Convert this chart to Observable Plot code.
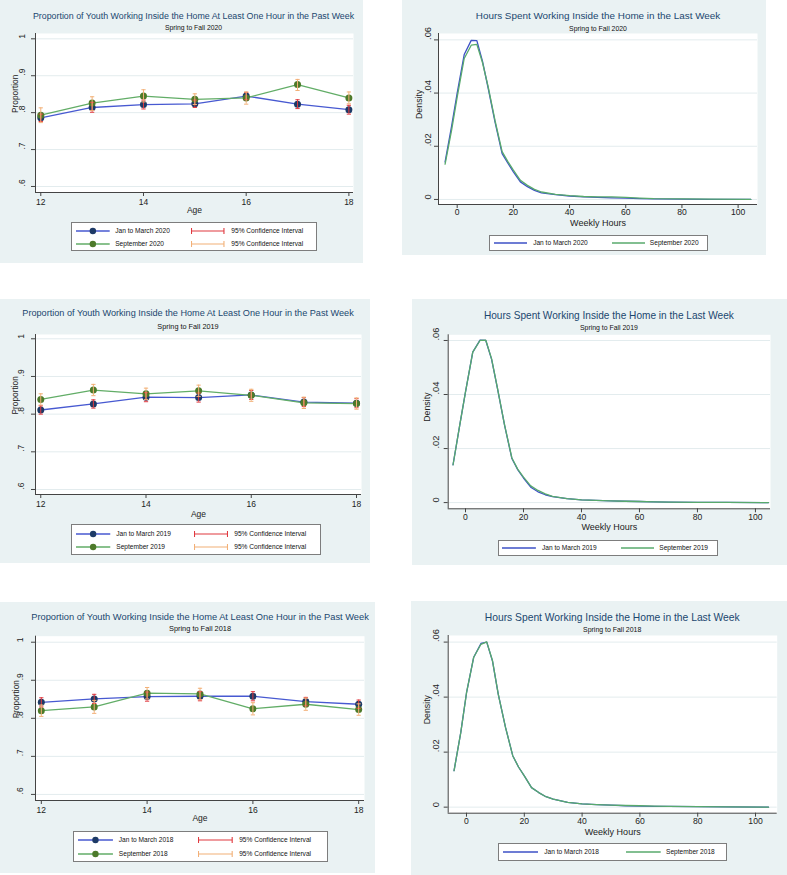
<!DOCTYPE html>
<html><head><meta charset="utf-8">
<script src="https://cdn.jsdelivr.net/npm/d3@7"></script>
<script src="https://cdn.jsdelivr.net/npm/@observablehq/plot@0.6"></script>
<style>
body{margin:0;background:#fff;font-family:"Liberation Sans",Arial,sans-serif;}
#root{position:relative;width:787px;height:875px;overflow:hidden;background:#fff;}
.panel{position:absolute;background:#EAF2F3;}
.panel svg.plot{position:absolute;left:0;top:0;}
.t{position:absolute;white-space:nowrap;transform:translate(-50%,-50%);line-height:1;}
.legend{position:absolute;background:#fff;border:1px solid #7d7d7d;box-sizing:border-box;}
.li{position:absolute;white-space:nowrap;transform:translateY(-50%);font-size:6.6px;color:#111;line-height:1;}
.sw{position:absolute;transform:translateY(-50%);}
</style></head><body><div id="root"></div>
<script>
// ---------------- DATA ----------------
const ages = [12, 13, 14, 15, 16, 17, 18];
const propTicks = [0.6, 0.7, 0.8, 0.9, 1];
const ageTicks = [12, 14, 16, 18];

// 2020
const jan2020 = [0.786, 0.814, 0.822, 0.824, 0.845, 0.823, 0.808];
const jan2020Lo = [0.776, 0.801, 0.810, 0.814, 0.835, 0.811, 0.796];
const jan2020Hi = [0.796, 0.828, 0.834, 0.834, 0.855, 0.835, 0.820];
const sep2020 = [0.793, 0.826, 0.845, 0.836, 0.840, 0.876, 0.840];
const sep2020Lo = [0.773, 0.806, 0.829, 0.822, 0.823, 0.860, 0.824];
const sep2020Hi = [0.813, 0.843, 0.862, 0.851, 0.856, 0.890, 0.856];
// 2019
const jan2019 = [0.811, 0.827, 0.845, 0.844, 0.851, 0.832, 0.829];
const jan2019Lo = [0.800, 0.816, 0.833, 0.832, 0.839, 0.820, 0.817];
const jan2019Hi = [0.822, 0.838, 0.857, 0.856, 0.863, 0.844, 0.841];
const sep2019 = [0.839, 0.864, 0.854, 0.862, 0.850, 0.830, 0.828];
const sep2019Lo = [0.824, 0.849, 0.839, 0.847, 0.834, 0.815, 0.813];
const sep2019Hi = [0.854, 0.879, 0.869, 0.877, 0.866, 0.845, 0.843];
// 2018
const jan2018 = [0.842, 0.851, 0.857, 0.858, 0.858, 0.844, 0.837];
const jan2018Lo = [0.830, 0.839, 0.845, 0.846, 0.846, 0.833, 0.826];
const jan2018Hi = [0.854, 0.863, 0.869, 0.870, 0.870, 0.855, 0.848];
const sep2018 = [0.820, 0.830, 0.866, 0.864, 0.825, 0.837, 0.823];
const sep2018Lo = [0.805, 0.813, 0.851, 0.849, 0.809, 0.821, 0.808];
const sep2018Hi = [0.835, 0.847, 0.881, 0.879, 0.841, 0.853, 0.838];

// Density of weekly hours
const hours = [-4.3, -2, 0, 2.5, 5, 7, 9, 11, 13.5, 16, 18, 20, 22.5, 25, 27.5, 30, 35, 40, 45, 50, 55, 60, 65, 70, 80, 90, 104.5];
const densTicksY = [0, 0.02, 0.04, 0.06];
const hourTicks = [0, 20, 40, 60, 80, 100];
const densJan2020 = [0.0141, 0.0275, 0.040, 0.0545, 0.0598, 0.0597, 0.052, 0.042, 0.029, 0.0172, 0.0137, 0.0104, 0.0066, 0.0048, 0.0034, 0.0025, 0.0018, 0.0013, 0.0010, 0.0008, 0.0006, 0.0005, 0.0003, 0.0002, 0.0001, 0.00005, 0];
const densSep2020 = [0.0133, 0.026, 0.0385, 0.053, 0.0580, 0.0583, 0.0515, 0.0425, 0.0295, 0.018, 0.0143, 0.011, 0.0072, 0.0053, 0.0038, 0.0028, 0.0019, 0.0014, 0.0011, 0.0010, 0.0010, 0.0008, 0.0005, 0.0003, 0.0002, 0.0001, 0];
const densJan2019 = [0.0140, 0.0286, 0.041, 0.0557, 0.0601, 0.0600, 0.053, 0.0424, 0.0285, 0.0163, 0.0122, 0.0091, 0.0057, 0.0040, 0.0029, 0.0022, 0.0015, 0.0010, 0.0008, 0.0006, 0.0005, 0.0004, 0.0003, 0.0002, 0.0001, 0.00005, 0];
const densSep2019 = [0.0140, 0.0286, 0.041, 0.0557, 0.0600, 0.0601, 0.0532, 0.0425, 0.0286, 0.0165, 0.0124, 0.0094, 0.0062, 0.0045, 0.0032, 0.0023, 0.0015, 0.0010, 0.0008, 0.0006, 0.0005, 0.0004, 0.0003, 0.0002, 0.0001, 0.00005, 0];
const densJan2018 = [0.0133, 0.027, 0.0415, 0.0545, 0.0595, 0.0600, 0.0531, 0.041, 0.029, 0.0187, 0.0146, 0.0114, 0.0071, 0.0053, 0.0038, 0.0029, 0.0017, 0.0012, 0.0009, 0.0007, 0.0005, 0.0004, 0.0003, 0.0003, 0.0002, 0.0001, 0];
const densSep2018 = [0.0133, 0.027, 0.0415, 0.0545, 0.0592, 0.0601, 0.0532, 0.041, 0.029, 0.0187, 0.0146, 0.0114, 0.0071, 0.0053, 0.0038, 0.0029, 0.0017, 0.0012, 0.0009, 0.0007, 0.0006, 0.0005, 0.0004, 0.0003, 0.0002, 0.0001, 0];

const propTitle = "Proportion of Youth Working Inside the Home At Least One Hour in the Past Week";
const densTitle = "Hours Spent Working Inside the Home in the Last Week";

// ---------------- STYLE ----------------
const GRID = "#E3ECEE", AXIS = "#444", TITLE = "#1a476f";
const BLUE_LINE = "#4759d1", BLUE_MARK = "#1d3a66", GREEN_LINE = "#62ad67", GREEN_MARK = "#4d7a2a";
const RED_CI = "#e0393f", ORANGE_CI = "#f2b077";
const DBLUE = "#3d50c6", DGREEN = "#58aa6c";
const FONT = "'Liberation Sans', Arial, sans-serif";

const capSymbol = {draw(ctx, size) { const w = Math.sqrt(size) / 2; ctx.moveTo(-w, 0); ctx.lineTo(w, 0); }};
const fmtProp = d => d === 1 ? "1" : d3.format(".1f")(d).replace(/^0/, "");
const fmtDens = d => d === 0 ? "0" : d3.format(".2f")(d).replace(/^0/, "");

const root = document.getElementById("root");

function makePanel(c) {
  const p = document.createElement("div");
  p.className = "panel";
  Object.assign(p.style, {left: c.left + "px", top: c.top + "px", width: c.width + "px", height: c.height + "px"});
  root.appendChild(p);
  return p;
}
function addText(p, txt, x, y, size, color) {
  const d = document.createElement("div");
  d.className = "t"; d.textContent = txt;
  Object.assign(d.style, {left: x + "px", top: y + "px", fontSize: size + "px", color});
  p.appendChild(d);
}
function swatch(kind, w, color, mark) {
  const h = 10, cy = 5;
  let s = `<svg width="${w}" height="${h}" xmlns="http://www.w3.org/2000/svg">`;
  if (kind === "ci") {
    s += `<line x1="0.5" y1="${cy}" x2="${w - 0.5}" y2="${cy}" stroke="${color}" stroke-width="1.1"/>`;
    s += `<line x1="0.5" y1="${cy - 3}" x2="0.5" y2="${cy + 3}" stroke="${color}" stroke-width="1.1"/>`;
    s += `<line x1="${w - 0.5}" y1="${cy - 3}" x2="${w - 0.5}" y2="${cy + 3}" stroke="${color}" stroke-width="1.1"/>`;
  } else {
    s += `<line x1="0" y1="${cy}" x2="${w}" y2="${cy}" stroke="${color}" stroke-width="1.3"/>`;
    if (mark) s += `<circle cx="${w / 2}" cy="${cy}" r="3.2" fill="${mark}"/>`;
  }
  return s + "</svg>";
}
function legend(p, box, items) {
  const L = document.createElement("div");
  L.className = "legend";
  Object.assign(L.style, {left: box.x + "px", top: box.y + "px", width: box.w + "px", height: box.h + "px"});
  for (const it of items) {
    const sx = it.f0 * box.w, sw = (it.f1 - it.f0) * box.w, cy = it.fy * box.h - 1;
    const s = document.createElement("div");
    s.className = "sw"; s.innerHTML = swatch(it.kind, sw, it.color, it.mark);
    Object.assign(s.style, {left: sx + "px", top: cy + "px", height: "10px", lineHeight: "0"});
    L.appendChild(s);
    const t = document.createElement("div");
    t.className = "li"; t.textContent = it.label;
    Object.assign(t.style, {left: it.ft * box.w + "px", top: cy + "px"});
    L.appendChild(t);
  }
  p.appendChild(L);
}

function propPanel(c, year, jan, janLo, janHi, sep, sepLo, sepHi) {
  const p = makePanel(c);
  const A = ages.map((a, i) => ({age: a, v: jan[i], lo: janLo[i], hi: janHi[i]}));
  const B = ages.map((a, i) => ({age: a, v: sep[i], lo: sepLo[i], hi: sepHi[i]}));
  const svg = Plot.plot({
    width: c.width, height: c.height,
    marginLeft: c.pl, marginTop: c.pt, marginRight: c.width - c.pr, marginBottom: c.height - c.pb,
    x: {domain: c.xd}, y: {domain: c.yd},
    style: {background: "transparent", fontFamily: FONT, fontSize: "8px", color: "#222"},
    marks: [
      Plot.frame({fill: "white", stroke: "none"}),
      Plot.gridY(propTicks, {stroke: GRID, strokeOpacity: 1}),
      Plot.ruleX([c.xd[0]], {stroke: AXIS}),
      Plot.ruleY([c.yd[0]], {stroke: AXIS}),
      Plot.axisX(ageTicks, {tickSize: 4, tickPadding: c.tp, label: null, stroke: AXIS, fontSize: 8.5}),
      Plot.axisY(propTicks, {tickSize: 4, tickFormat: () => "", label: null, stroke: AXIS}),
      Plot.text(propTicks, {y: d => d, text: fmtProp, frameAnchor: "left", dx: c.ydx, rotate: -90, fontSize: 8.5, fill: "#222"}),
      Plot.text(["Age"], {text: d => d, frameAnchor: "bottom", dy: c.xlab, fontSize: 8.5, fill: "#222"}),
      Plot.text(["Proportion"], {text: d => d, frameAnchor: "left", dx: c.ylab, rotate: -90, fontSize: 8.3, fill: "#222"}),
      Plot.line(A, {x: "age", y: "v", stroke: BLUE_LINE, strokeWidth: 1.3}),
      Plot.line(B, {x: "age", y: "v", stroke: GREEN_LINE, strokeWidth: 1.3}),
      Plot.dot(A, {x: "age", y: "v", r: 3.5, fill: BLUE_MARK, stroke: "none"}),
      Plot.dot(B, {x: "age", y: "v", r: 3.5, fill: GREEN_MARK, stroke: "none"}),
      Plot.ruleX(A, {x: "age", y1: "lo", y2: "hi", stroke: RED_CI, strokeWidth: 1}),
      Plot.dot(A, {x: "age", y: "lo", symbol: capSymbol, r: 2.4, fill: "none", stroke: RED_CI, strokeWidth: 1}),
      Plot.dot(A, {x: "age", y: "hi", symbol: capSymbol, r: 2.4, fill: "none", stroke: RED_CI, strokeWidth: 1}),
      Plot.ruleX(B, {x: "age", y1: "lo", y2: "hi", stroke: ORANGE_CI, strokeWidth: 1}),
      Plot.dot(B, {x: "age", y: "lo", symbol: capSymbol, r: 2.4, fill: "none", stroke: ORANGE_CI, strokeWidth: 1}),
      Plot.dot(B, {x: "age", y: "hi", symbol: capSymbol, r: 2.4, fill: "none", stroke: ORANGE_CI, strokeWidth: 1})
    ]
  });
  svg.classList.add("plot");
  p.appendChild(svg);
  addText(p, propTitle, c.tx, c.ty, c.ts, TITLE);
  addText(p, "Spring to Fall " + year, c.tx, c.sy, c.ss, "#111");
  legend(p, c.lg, [
    {kind: "line", color: BLUE_LINE, mark: BLUE_MARK, label: "Jan to March " + year, f0: 0.017, f1: 0.154, ft: 0.177, fy: 0.31},
    {kind: "ci", color: RED_CI, label: "95% Confidence Interval", f0: 0.487, f1: 0.623, ft: 0.649, fy: 0.31},
    {kind: "line", color: GREEN_LINE, mark: GREEN_MARK, label: "September " + year, f0: 0.017, f1: 0.154, ft: 0.177, fy: 0.75},
    {kind: "ci", color: ORANGE_CI, label: "95% Confidence Interval", f0: 0.487, f1: 0.623, ft: 0.649, fy: 0.75}
  ]);
}

function densPanel(c, year, jan, sep) {
  const p = makePanel(c);
  const A = hours.map((h, i) => ({h, d: jan[i]}));
  const B = hours.map((h, i) => ({h, d: sep[i]}));
  const svg = Plot.plot({
    width: c.width, height: c.height,
    marginLeft: c.pl, marginTop: c.pt, marginRight: c.width - c.pr, marginBottom: c.height - c.pb,
    x: {domain: c.xd}, y: {domain: c.yd},
    style: {background: "transparent", fontFamily: FONT, fontSize: "9px", color: "#222"},
    marks: [
      Plot.frame({fill: "white", stroke: "none"}),
      Plot.gridY(densTicksY, {stroke: GRID, strokeOpacity: 1}),
      Plot.ruleX([c.xd[0]], {stroke: AXIS}),
      Plot.ruleY([c.yd[0]], {stroke: AXIS}),
      Plot.axisX(hourTicks, {tickSize: 4, tickPadding: c.tp, label: null, stroke: AXIS, fontSize: 8.6}),
      Plot.axisY(densTicksY, {tickSize: 4, tickFormat: () => "", label: null, stroke: AXIS}),
      Plot.text(densTicksY, {y: d => d, text: fmtDens, frameAnchor: "left", dx: c.ydx, rotate: -90, fontSize: 9.3, fill: "#222"}),
      Plot.text(["Weekly Hours"], {text: d => d, frameAnchor: "bottom", dy: c.xlab, fontSize: 9, fill: "#222"}),
      Plot.text(["Density"], {text: d => d, frameAnchor: "left", dx: c.ylab, rotate: -90, fontSize: 8.8, fill: "#222"}),
      Plot.line(A, {x: "h", y: "d", stroke: DBLUE, strokeWidth: 1.3}),
      Plot.line(B, {x: "h", y: "d", stroke: DGREEN, strokeWidth: 1.3})
    ]
  });
  svg.classList.add("plot");
  p.appendChild(svg);
  addText(p, densTitle, c.tx, c.ty, c.ts, TITLE);
  addText(p, "Spring to Fall " + year, c.tx, c.sy, c.ss, "#111");
  legend(p, c.lg, [
    {kind: "line", color: DBLUE, label: "Jan to March " + year, f0: 0.016, f1: 0.17, ft: 0.197, fy: 0.5},
    {kind: "line", color: DGREEN, label: "September " + year, f0: 0.555, f1: 0.707, ft: 0.73, fy: 0.5}
  ]);
}

// ---------------- LAYOUT ----------------
propPanel({left: 0, top: 0, width: 363, height: 263, pl: 35, pt: 33, pr: 353, pb: 192,
  xd: [11.897, 18.09], yd: [0.5837, 1.0144], tp: 2.5, ydx: -13, xlab: 20, ylab: -20,
  tx: 193.5, ty: 16, ts: 8.85, sy: 28, ss: 6.8, lg: {x: 70.7, y: 221.7, w: 246, h: 29.5}},
  2020, jan2020, jan2020Lo, jan2020Hi, sep2020, sep2020Lo, sep2020Hi);

propPanel({left: 0, top: 299, width: 370, height: 264, pl: 35, pt: 35, pr: 361, pb: 195,
  xd: [11.9, 18.095], yd: [0.5867, 1.0114], tp: 2, ydx: -14, xlab: 22, ylab: -20,
  tx: 188, ty: 15, ts: 9.15, sy: 28, ss: 7.3, lg: {x: 71, y: 225, w: 250, h: 31}},
  2019, jan2019, jan2019Lo, jan2019Hi, sep2019, sep2019Lo, sep2019Hi);

propPanel({left: 0, top: 602, width: 375, height: 271, pl: 35, pt: 33.7, pr: 364, pb: 198,
  xd: [11.89, 18.11], yd: [0.584, 1.0158], tp: 2, ydx: -15, xlab: 20, ylab: -19,
  tx: 200, ty: 16, ts: 9.3, sy: 27, ss: 7.4, lg: {x: 72.7, y: 228.7, w: 255, h: 31}},
  2018, jan2018, jan2018Lo, jan2018Hi, sep2018, sep2018Lo, sep2018Hi);

densPanel({left: 402, top: 0, width: 364, height: 255, pl: 36, pt: 33, pr: 355, pb: 204,
  xd: [-6.65, 106.9], yd: [-0.0019, 0.0624], tp: 0.5, ydx: -10, xlab: 21, ylab: -19,
  tx: 196, ty: 15.7, ts: 9.9, sy: 28.7, ss: 6.9, lg: {x: 87, y: 235, w: 219, h: 16}},
  2020, densJan2020, densSep2020);

densPanel({left: 412, top: 299, width: 375, height: 266, pl: 35.7, pt: 35.3, pr: 358, pb: 209.3,
  xd: [-5.97, 105.2], yd: [-0.0023, 0.0621], tp: 1, ydx: -12.5, xlab: 21.5, ylab: -21,
  tx: 196.9, ty: 17, ts: 10.1, sy: 28.7, ss: 6.9, lg: {x: 85.7, y: 241, w: 220, h: 15.5}},
  2019, densJan2019, densSep2019);

densPanel({left: 411, top: 601, width: 376, height: 274, pl: 36.7, pt: 34, pr: 365.7, pb: 211.7,
  xd: [-6.33, 107.5], yd: [-0.0022, 0.0624], tp: 1, ydx: -12, xlab: 21.5, ylab: -21,
  tx: 201.2, ty: 16.7, ts: 10.3, sy: 29, ss: 6.95, lg: {x: 87.3, y: 242.3, w: 228.4, h: 17.7}},
  2018, densJan2018, densSep2018);
</script></body></html>
